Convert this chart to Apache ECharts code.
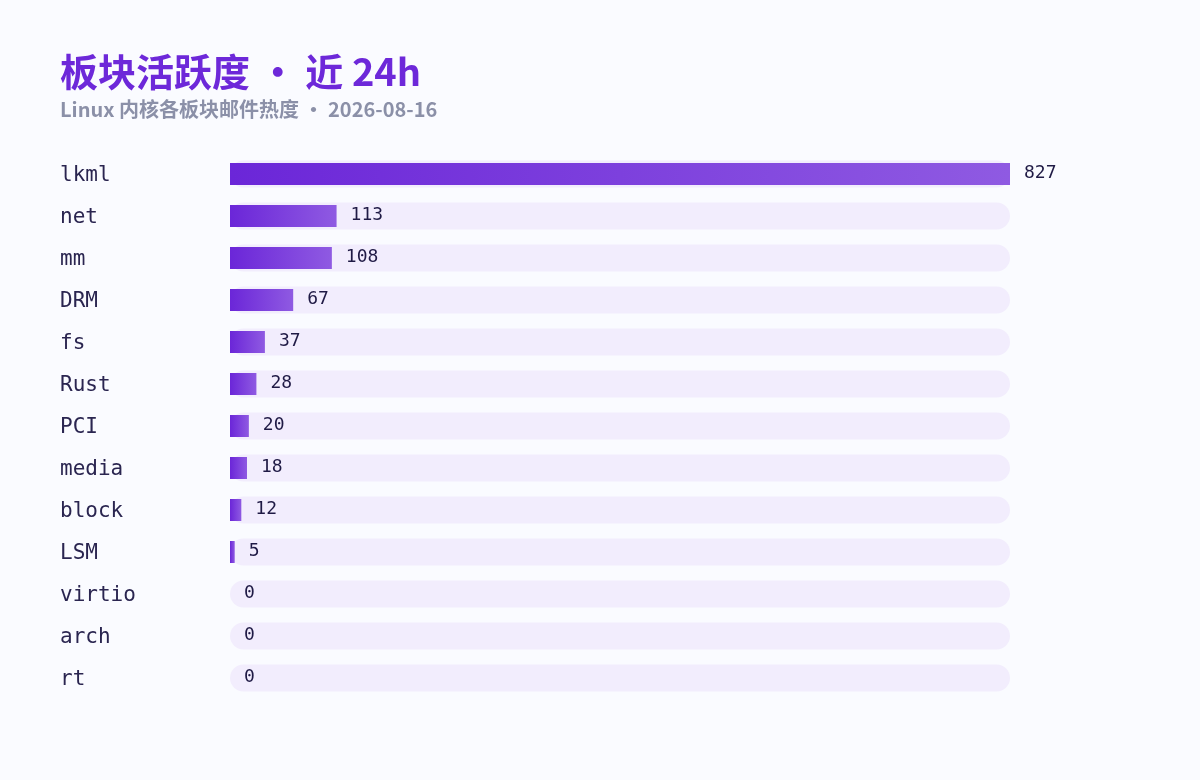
<!DOCTYPE html>
<html lang="zh">
<head>
    <meta charset="UTF-8">
    <title>板块活跃度</title>
    <script src="https://cdn.jsdelivr.net/npm/echarts@6/dist/echarts.min.js"></script>
    <style>
        html, body { margin: 0; padding: 0; background: #fafbff; }
        #main { width: 1200px; height: 780px; }
    </style>
</head>
<body>
<div id="main"></div>
<script>
    // 数据
    var boards = ['lkml', 'net', 'mm', 'DRM', 'fs', 'Rust', 'PCI', 'media', 'block', 'LSM', 'virtio', 'arch', 'rt'];
    var mailCounts = [827, 113, 108, 67, 37, 28, 20, 18, 12, 5, 0, 0, 0];
    var titleText = '板块活跃度 • 近 24h';
    var subText = 'Linux 内核各板块邮件热度 • 2026-08-16';

    var maxCount = Math.max.apply(null, mailCounts);
    var trackValues = boards.map(function () { return maxCount; });

    var chart = echarts.init(document.getElementById('main'));
    chart.setOption({
        backgroundColor: '#fafbff',
        animation: false,
        title: {
            text: titleText,
            subtext: subText,
            left: 55,
            top: 48,
            itemGap: 8,
            textStyle: {
                fontFamily: 'Noto Sans CJK SC',
                fontSize: 38,
                fontWeight: 'bold',
                color: '#6d28d9'
            },
            subtextStyle: {
                fontFamily: 'Noto Sans CJK SC',
                fontSize: 20,
                fontWeight: 'bold',
                color: '#8b90a8'
            }
        },
        grid: {
            left: 230,
            width: 780,
            top: 153,
            height: 546
        },
        xAxis: {
            type: 'value',
            min: 0,
            max: maxCount,
            show: false
        },
        yAxis: [
            {
                type: 'category',
                data: boards,
                inverse: true,
                axisLine: { show: false },
                axisTick: { show: false },
                splitLine: { show: false },
                axisLabel: {
                    align: 'left',
                    verticalAlign: 'top',
                    lineHeight: 4,
                    margin: 170,
                    fontFamily: 'DejaVu Sans Mono',
                    fontSize: 21,
                    color: '#2a2550'
                }
            },
            {
                // 背景轨道用的隐藏轴
                type: 'category',
                data: boards,
                inverse: true,
                show: false
            }
        ],
        series: [
            {
                // 背景轨道
                type: 'bar',
                yAxisIndex: 1,
                data: trackValues,
                barWidth: 27,
                silent: true,
                z: 1,
                itemStyle: {
                    color: '#f2edfd',
                    borderRadius: 13.5
                }
            },
            {
                type: 'bar',
                yAxisIndex: 0,
                data: mailCounts,
                barWidth: 22,
                z: 2,
                itemStyle: {
                    color: new echarts.graphic.LinearGradient(0, 0, 1, 0, [
                        { offset: 0, color: '#6b26d8' },
                        { offset: 1, color: '#8f5ae2' }
                    ])
                },
                label: {
                    show: true,
                    position: 'right',
                    distance: 14,
                    offset: [0, -1],
                    fontFamily: 'DejaVu Sans Mono',
                    fontSize: 18,
                    color: '#1f1a45'
                }
            }
        ]
    });
</script>
</body>
</html>
